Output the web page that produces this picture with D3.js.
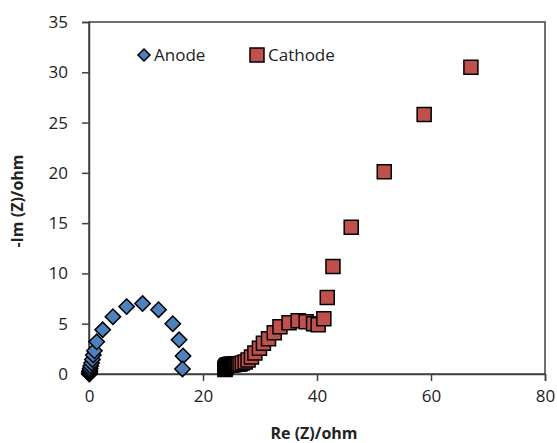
<!DOCTYPE html>
<html>
<head>
<meta charset="utf-8">
<script src="https://cdnjs.cloudflare.com/ajax/libs/d3/7.8.5/d3.min.js"></script>
<style>
  body { margin: 0; background: #fff; }
  svg text { font-family: "Open Sans", "Noto Sans", sans-serif; fill: #222; }
</style>
</head>
<body>
<div class="chart"></div>
<script>
// anode (diamonds)
var anodeRe = [0.05, 0.08, 0.1, 0.12, 0.15, 0.2, 0.3, 0.45, 0.6, 0.75, 0.95, 1.35, 2.4, 4.2, 6.6, 9.4, 12.2, 14.7, 15.8, 16.5, 16.4];
var anodeIm = [0.0, 0.05, 0.15, 0.25, 0.35, 0.55, 0.8, 1.1, 1.45, 1.9, 2.3, 3.2, 4.4, 5.7, 6.7, 7.0, 6.4, 5.0, 3.4, 1.8, 0.5];

// cathode (squares)
var cathodeRe = [23.85, 23.88, 23.9, 23.92, 23.95, 24.0, 24.05, 24.1, 24.2, 24.3, 24.4, 24.5, 24.6, 24.7, 24.8, 24.9, 25.0, 25.1, 25.2, 25.35, 25.5, 25.65, 25.8, 26.0, 26.2, 26.5, 26.9, 27.4, 27.9, 28.5, 29.1, 29.9, 30.6, 31.5, 32.5, 33.5, 35.1, 36.7, 38.1, 39.4, 40.2, 41.2, 41.8, 42.8, 46.0, 51.8, 58.8, 67.0];
var cathodeIm = [0.45, 0.5, 0.55, 0.6, 0.65, 0.7, 0.75, 0.8, 0.85, 0.88, 0.9, 0.92, 0.93, 0.94, 0.95, 0.95, 0.95, 0.95, 0.95, 0.95, 0.95, 0.96, 0.97, 0.98, 1.0, 1.0, 1.1, 1.2, 1.4, 1.7, 2.1, 2.55, 3.05, 3.5, 4.1, 4.7, 5.1, 5.3, 5.2, 5.0, 4.9, 5.5, 7.6, 10.7, 14.6, 20.1, 25.8, 30.5];

var xTicks = [0, 20, 40, 60, 80];
var yTicks = [0, 5, 10, 15, 20, 25, 30, 35];

var width = 557, height = 443;
var pLeft = 89, pRight = 545, pTop = 22, pBottom = 374;

var svg = d3.select('.chart')
    .append('svg')
    .attr('width', width)
    .attr('height', height);

var x = d3.scaleLinear().domain([0, 80]).range([pLeft, pRight]);
var y = d3.scaleLinear().domain([0, 35]).range([pBottom, pTop]);

// plot area frame
svg.append('rect')
    .attr('x', pLeft).attr('y', pTop)
    .attr('width', pRight - pLeft).attr('height', pBottom - pTop)
    .attr('fill', 'none')
    .attr('stroke', '#404040')
    .attr('stroke-width', 1.5);

var xAxis = svg.append('g')
    .attr('transform', 'translate(0,' + pBottom + ')')
    .call(d3.axisBottom(x).tickValues(xTicks).tickSize(7).tickPadding(9).tickFormat(d3.format('d')));

var yAxis = svg.append('g')
    .attr('transform', 'translate(' + pLeft + ',0)')
    .call(d3.axisLeft(y).tickValues(yTicks).tickSize(7).tickPadding(14).tickFormat(d3.format('d')));

[xAxis, yAxis].forEach(function(a){
  a.select('.domain').attr('stroke', '#404040').attr('stroke-width', 1.5);
  a.selectAll('.tick line').attr('stroke', '#404040').attr('stroke-width', 1.5);
  a.selectAll('.tick text')
      .style('font-family', '"Open Sans", "Noto Sans", sans-serif')
      .style('font-size', '17px')
      .attr('fill', '#222');
});

// axis titles
svg.append('text')
    .attr('x', 314).attr('y', 439)
    .attr('text-anchor', 'middle')
    .style('font-size', '16px')
    .style('font-weight', 'bold')
    .text('Re (Z)/ohm');

svg.append('text')
    .attr('transform', 'translate(23,201) rotate(-90)')
    .attr('text-anchor', 'middle')
    .style('font-size', '16px')
    .style('font-weight', 'bold')
    .text('-Im (Z)/ohm');

var anode = anodeRe.map(function(d, i){ return {re: d, im: anodeIm[i]}; });
var cathode = cathodeRe.map(function(d, i){ return {re: d, im: cathodeIm[i]}; });

var diamond = d3.symbol().type(d3.symbolSquare).size(118);
var square = d3.symbol().type(d3.symbolSquare).size(196);

svg.append('g').selectAll('path')
    .data(anode)
    .enter()
    .append('path')
    .attr('d', diamond)
    .attr('transform', function(d){ return 'translate(' + x(d.re) + ',' + y(d.im) + ') rotate(45)'; })
    .attr('fill', '#4f81bd')
    .attr('stroke', '#000')
    .attr('stroke-width', 1.5);

svg.append('g').selectAll('path')
    .data(cathode)
    .enter()
    .append('path')
    .attr('d', square)
    .attr('transform', function(d){ return 'translate(' + x(d.re) + ',' + y(d.im) + ')'; })
    .attr('fill', '#c0504d')
    .attr('stroke', '#000')
    .attr('stroke-width', 1.5);

// legend
var legend = svg.append('g');
legend.append('path')
    .attr('d', d3.symbol().type(d3.symbolSquare).size(72))
    .attr('transform', 'translate(144,55) rotate(45)')
    .attr('fill', '#4f81bd').attr('stroke', '#000').attr('stroke-width', 1.5);
legend.append('text')
    .attr('x', 154).attr('y', 61)
    .style('font-size', '17px')
    .text('Anode');
legend.append('path')
    .attr('d', d3.symbol().type(d3.symbolSquare).size(196))
    .attr('transform', 'translate(257,55)')
    .attr('fill', '#c0504d').attr('stroke', '#000').attr('stroke-width', 1.5);
legend.append('text')
    .attr('x', 268).attr('y', 61)
    .style('font-size', '17px')
    .text('Cathode');
</script>
</body>
</html>
